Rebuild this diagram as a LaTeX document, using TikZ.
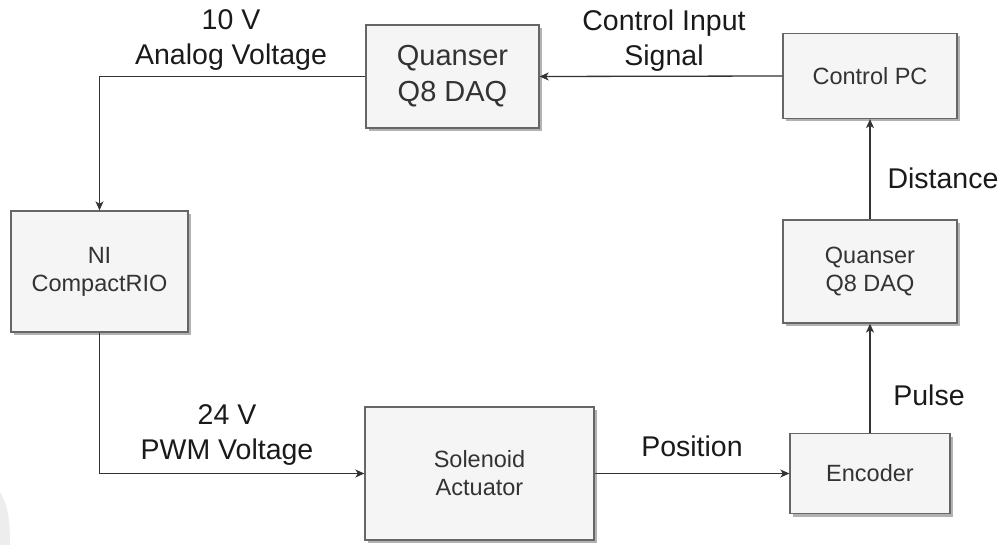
\documentclass[tikz,border=0pt]{standalone}
\usepackage{fontspec}
\setmainfont{Liberation Sans}
\usetikzlibrary{arrows.meta,shadows}
\definecolor{boxfill}{HTML}{F5F5F5}
\definecolor{boxline}{HTML}{666666}
\definecolor{boxtxt}{HTML}{333333}
\definecolor{lbltxt}{HTML}{1A1A1A}
\definecolor{wirecol}{HTML}{333333}
\begin{document}
\begin{tikzpicture}[x=1pt,y=-1pt,
  blk/.style={draw=boxline, fill=boxfill, line width=1.3pt, inner sep=0pt, align=center, text=boxtxt,
    drop shadow={shadow xshift=3pt,shadow yshift=-3pt,fill=black!30,opacity=1}},
  smalltxt/.style={font=\fontsize{23.5}{28}\selectfont},
  bigtxt/.style={font=\fontsize{29}{36}\selectfont},
  lab/.style={font=\fontsize{28.5}{35}\selectfont, text=lbltxt, align=center, inner sep=0pt},
  wire/.style={draw=wirecol, line width=1.3pt, -{Stealth[length=9pt,width=8pt,inset=2.5pt]}}
]
\useasboundingbox (0,0) rectangle (1006,545);
\fill[black!7] (0,492) .. controls (8,505) and (10,520) .. (10,545) -- (0,545) -- cycle;

\node[blk,bigtxt,minimum width=173pt,minimum height=103pt] (q8a) at (452.5,76.5) {Quanser\\Q8 DAQ};
\node[blk,smalltxt,minimum width=174pt,minimum height=85pt] (pc) at (870,76) {Control PC};
\node[blk,smalltxt,minimum width=177pt,minimum height=121pt] (ni) at (99.5,271.5) {NI\\CompactRIO};
\node[blk,smalltxt,minimum width=174pt,minimum height=103pt] (q8b) at (870,271.5) {Quanser\\Q8 DAQ};
\node[blk,smalltxt,minimum width=229pt,minimum height=133pt] (sol) at (479.5,473.5) {Solenoid\\Actuator};
\node[blk,smalltxt,minimum width=160pt,minimum height=80pt] (enc) at (870,473.5) {Encoder};

\draw[wire] (pc.west) -- (q8a.east);
\draw[wire] (q8a.west) -| (ni.north);
\draw[wire] (ni.south) |- (sol.west);
\draw[wire] (sol.east) -- (enc.west);
\draw[wire] (enc.north) -- (q8b.south);
\draw[wire] (q8b.north) -- (pc.south);

\node[lab] (lav) at (231,40.5) {10 V\\Analog Voltage};
\node[lab] (lcis) at (664,40.5) {Control Input\\Signal};
\node[lab] (ldist) at (943,178) {Distance};
\node[lab] (lpulse) at (929,395) {Pulse};
\node[lab] (lpos) at (692,446) {Position};
\node[lab] (lpwm) at (227,435) {24 V\\PWM Voltage};
\end{tikzpicture}
\end{document}
